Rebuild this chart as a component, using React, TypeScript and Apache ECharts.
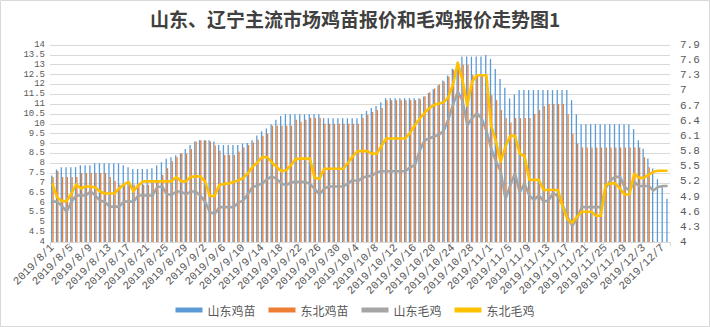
import React, { useEffect, useRef } from "react";
import * as echarts from "echarts";

const categories: string[] = [
  "2019/8/1","2019/8/2","2019/8/3","2019/8/4","2019/8/5","2019/8/6","2019/8/7","2019/8/8","2019/8/9","2019/8/10",
  "2019/8/11","2019/8/12","2019/8/13","2019/8/14","2019/8/15","2019/8/16","2019/8/17","2019/8/18","2019/8/19","2019/8/20",
  "2019/8/21","2019/8/22","2019/8/23","2019/8/24","2019/8/25","2019/8/26","2019/8/27","2019/8/28","2019/8/29","2019/8/30",
  "2019/8/31",
  "2019/9/1","2019/9/2","2019/9/3","2019/9/4","2019/9/5","2019/9/6","2019/9/7","2019/9/8","2019/9/9","2019/9/10",
  "2019/9/11","2019/9/12","2019/9/13","2019/9/14","2019/9/15","2019/9/16","2019/9/17","2019/9/18","2019/9/19","2019/9/20",
  "2019/9/21","2019/9/22","2019/9/23","2019/9/24","2019/9/25","2019/9/26","2019/9/27","2019/9/28","2019/9/29","2019/9/30",
  "2019/10/1","2019/10/2","2019/10/3","2019/10/4","2019/10/5","2019/10/6","2019/10/7","2019/10/8","2019/10/9","2019/10/10",
  "2019/10/11","2019/10/12","2019/10/13","2019/10/14","2019/10/15","2019/10/16","2019/10/17","2019/10/18","2019/10/19","2019/10/20",
  "2019/10/21","2019/10/22","2019/10/23","2019/10/24","2019/10/25","2019/10/26","2019/10/27","2019/10/28","2019/10/29","2019/10/30",
  "2019/10/31",
  "2019/11/1","2019/11/2","2019/11/3","2019/11/4","2019/11/5","2019/11/6","2019/11/7","2019/11/8","2019/11/9","2019/11/10",
  "2019/11/11","2019/11/12","2019/11/13","2019/11/14","2019/11/15","2019/11/16","2019/11/17","2019/11/18","2019/11/19","2019/11/20",
  "2019/11/21","2019/11/22","2019/11/23","2019/11/24","2019/11/25","2019/11/26","2019/11/27","2019/11/28","2019/11/29","2019/11/30",
  "2019/12/1","2019/12/2","2019/12/3","2019/12/4","2019/12/5","2019/12/6","2019/12/7","2019/12/8",
];

// 山东鸡苗 (left axis)
const shandongChick: (number | null)[] = [
  7.38, 7.68, 7.8, 7.8, 7.8, 7.8, 7.9, 7.9, 7.9, 8.0,
  8.0, 8.0, 8.0, 8.0, 8.0, 7.9, 7.8, 7.7, 7.7, 7.7,
  7.7, 7.75, 7.9, 8.05, 8.22, 8.3, 8.4, 8.5, 8.72, 8.92,
  9.1, 9.17, 9.17, 9.17, 9.1, 8.92, 8.92, 8.92, 8.92, 8.92,
  9.0, 9.02, 9.17, 9.4, 9.62, 9.76, 9.98, 10.2, 10.4, 10.48,
  10.48, 10.48, 10.48, 10.48, 10.48, 10.48, 10.48, 10.28, 10.28, 10.28,
  10.28, 10.28, 10.28, 10.28, 10.28, 10.5, 10.65, 10.8, 10.9, 11.1,
  11.3, 11.3, 11.3, 11.3, 11.3, 11.3, 11.3, 11.3, 11.39, 11.56,
  11.76, 11.95, 12.2, 12.45, 12.8, 13.1, 13.41, 13.41, 13.41, 13.41,
  13.41, 13.49, 13.29, 12.78, 12.27, 11.83, 11.29, 11.49, 11.71, 11.71,
  11.71, 11.71, 11.71, 11.71, 11.71, 11.71, 11.71, 11.71, 11.71, 11.2,
  10.49, 9.98, 9.98, 9.98, 9.98, 9.98, 9.98, 9.98, 9.98, 9.98,
  9.98, 9.98, 9.73, 9.17, 8.73, 8.24, 7.73, 7.19, 6.8, 6.2,
];

// 东北鸡苗 (left axis)
const dongbeiChick: (number | null)[] = [
  7.3, 7.6, 7.3, 7.3, 7.3, 7.3, 7.5, 7.5, 7.5, 7.5,
  7.5, 7.5, 7.3, 7.1, 6.9, 6.9, 6.9, 6.9, 6.9, 6.9,
  6.9, 7.0, 7.1, 7.4, 7.75, 8.1, 8.3, 8.5, 8.5, 8.72,
  9.1, 9.17, 9.15, 9.1, 8.9, 8.63, 8.42, 8.42, 8.42, 8.6,
  8.8, 8.92, 9.05, 9.19, 9.39, 9.5, 9.9, 9.9, 9.9, 9.9,
  9.9, 10.2, 10.1, 10.2, 10.3, 10.3, 10.3, 10.0, 10.0, 10.0,
  10.0, 10.0, 10.0, 10.0, 10.0, 10.3, 10.45, 10.6, 10.7, 10.8,
  11.2, 11.2, 11.2, 11.2, 11.2, 11.2, 11.2, 11.25, 11.4, 11.6,
  11.8, 12.0, 12.15, 12.4, 12.75, 13.0, 13.0, 13.0, 12.48, 12.48,
  12.48, 11.55, 11.45, 11.2, 10.7, 10.3, 10.07, 10.29, 10.29, 10.29,
  10.29, 10.5, 10.7, 10.9, 11.0, 11.0, 11.0, 11.0, 10.5, 9.5,
  9.0, 8.8, 8.8, 8.8, 8.8, 8.8, 8.8, 8.8, 8.8, 8.8,
  8.8, 8.8, 8.8, 8.8, 8.3, 7.8, 4.03, null, null, null,
];

// 山东毛鸡 (right axis)
const shandongBroiler: number[] = [
  4.8, 4.8, 4.71, 4.6, 4.8, 4.92, 4.92, 4.92, 5.0, 4.92,
  4.82, 4.79, 4.7, 4.7, 4.7, 4.8, 4.8, 4.8, 4.92, 4.92,
  4.92, 4.92, 5.09, 5.1, 4.95, 4.93, 5.0, 5.0, 4.94, 5.0,
  5.0, 4.92, 4.8, 4.6, 4.55, 4.69, 4.69, 4.69, 4.69, 4.78,
  4.82, 4.95, 5.09, 5.12, 5.16, 5.24, 5.3, 5.25, 5.16, 5.12,
  5.18, 5.19, 5.19, 5.19, 5.15, 5.05, 4.94, 5.06, 5.1, 5.1,
  5.1, 5.1, 5.16, 5.23, 5.2, 5.27, 5.3, 5.31, 5.38, 5.4,
  5.4, 5.4, 5.4, 5.4, 5.4, 5.48, 5.52, 5.8, 6.01, 6.05,
  6.09, 6.12, 6.2, 6.42, 6.72, 6.97, 6.8, 6.31, 6.45, 6.55,
  6.45, 6.2, 5.85, 5.6, 5.4, 4.85, 5.12, 5.36, 4.98, 5.16,
  4.92, 4.83, 4.93, 4.8, 4.82, 4.97, 4.9, 4.73, 4.5, 4.32,
  4.46, 4.69, 4.69, 4.69, 4.69, 4.69, 5.06, 5.22, 5.29, 5.29,
  5.09, 5.02, 5.19, 5.11, 5.11, 5.11, 5.02, 5.09, 5.11, 5.11,
];

// 东北毛鸡 (right axis)
const dongbeiBroiler: number[] = [
  5.16, 4.88, 4.81, 4.81, 4.96, 5.14, 5.06, 5.1, 5.1, 5.08,
  5.0, 4.96, 4.96, 4.96, 5.06, 5.14, 5.19, 5.0, 5.12, 5.2,
  5.2, 5.2, 5.2, 5.2, 5.2, 5.2, 5.29, 5.2, 5.2, 5.29,
  5.3, 5.3, 5.2, 4.91, 4.91, 5.13, 5.15, 5.16, 5.19, 5.22,
  5.27, 5.36, 5.49, 5.58, 5.68, 5.68, 5.58, 5.49, 5.4, 5.42,
  5.52, 5.64, 5.65, 5.65, 5.65, 5.27, 5.25, 5.45, 5.45, 5.45,
  5.45, 5.45, 5.57, 5.7, 5.8, 5.8, 5.8, 5.75, 5.75, 5.9,
  6.05, 6.05, 6.05, 6.05, 6.05, 6.16, 6.31, 6.44, 6.55, 6.65,
  6.71, 6.74, 6.76, 6.86, 7.12, 7.55, 7.2, 6.7, 7.17, 7.3,
  7.3, 7.3, 6.3, 6.0, 5.59, 5.89, 6.1, 6.1, 5.75, 5.7,
  5.23, 5.23, 5.23, 5.03, 5.03, 5.03, 5.03, 4.7, 4.45, 4.38,
  4.5, 4.6, 4.6, 4.6, 4.52, 4.52, 5.13, 5.16, 5.16, 5.06,
  4.94, 4.94, 5.35, 5.27, 5.27, 5.33, 5.39, 5.41, 5.41, 5.41,
];

const seriesNames = ["山东鸡苗", "东北鸡苗", "山东毛鸡", "东北毛鸡"];
const colors = ["#5B9BD5", "#ED7D31", "#A5A5A5", "#FFC000"];
const titleText = "山东、辽宁主流市场鸡苗报价和毛鸡报价走势图1";

const fmt = (v: number) => {
  const r = Math.round(v * 10) / 10;
  return Number.isInteger(r) ? String(r) : r.toFixed(1);
};

export default function App() {
  const ref = useRef<HTMLDivElement>(null);
  useEffect(() => {
    document.body.style.margin = "0";
    if (!ref.current) return;
    const chart = echarts.init(ref.current, undefined, { renderer: "svg" });
    const mono = "Liberation Mono";
    chart.setOption({
      animation: false,
      backgroundColor: "#FFFFFF",
      color: colors,
      title: {
        text: titleText,
        left: "center",
        top: 4,
        textStyle: {
          fontSize: 19,
          fontWeight: "bold",
          color: "#404040",
          fontFamily: "Noto Sans CJK SC",
        },
      },
      legend: {
        data: seriesNames,
        left: "center",
        top: 299,
        icon: "rect",
        itemWidth: 27,
        itemHeight: 5,
        itemGap: 13,
        textStyle: { fontSize: 12, color: "#595959", fontFamily: "Noto Sans CJK SC" },
      },
      graphic: [
        {
          type: "rect",
          shape: { x: 0.5, y: 0.5, width: 709, height: 326 },
          style: { fill: "none", stroke: "#D9D9D9", lineWidth: 1 },
          silent: true,
        },
      ],
      grid: { left: 50, right: 40, top: 45, bottom: 85, containLabel: false },
      xAxis: {
        type: "category",
        data: categories,
        boundaryGap: true,
        axisLine: { lineStyle: { color: "#D9D9D9" } },
        axisTick: { show: true, interval: 3, length: 4, lineStyle: { color: "#D9D9D9" } },
        axisLabel: {
          interval: 3,
          rotate: 45,
          margin: 4,
          fontSize: 11,
          fontFamily: mono,
          color: "#595959",
        },
      },
      yAxis: [
        {
          type: "value",
          min: 4,
          max: 14,
          interval: 0.5,
          axisLine: { show: false },
          axisTick: { show: false },
          splitLine: { lineStyle: { color: "#D9D9D9", width: 1 } },
          axisLabel: {
            fontSize: 9,
            lineHeight: 9,
            fontFamily: mono,
            color: "#595959",
            margin: 5,
            showMinLabel: true,
            showMaxLabel: true,
            hideOverlap: false,
            formatter: fmt,
          },
        },
        {
          type: "value",
          min: 4,
          max: 7.9,
          interval: 0.3,
          axisLine: { show: false },
          axisTick: { show: false },
          splitLine: { show: false },
          axisLabel: {
            fontSize: 11,
            fontFamily: mono,
            color: "#595959",
            margin: 10,
            showMinLabel: true,
            showMaxLabel: true,
            formatter: fmt,
          },
        },
      ],
      series: [
        {
          name: seriesNames[0],
          type: "bar",
          data: shandongChick,
          yAxisIndex: 0,
          barWidth: 1.3,
          barGap: "0%",
          itemStyle: { color: colors[0] },
        },
        {
          name: seriesNames[1],
          type: "bar",
          data: dongbeiChick,
          yAxisIndex: 0,
          barWidth: 1.3,
          barGap: "0%",
          itemStyle: { color: colors[1] },
        },
        {
          name: seriesNames[2],
          type: "line",
          data: shandongBroiler,
          yAxisIndex: 1,
          symbol: "none",
          z: 3,
          lineStyle: { width: 2.6, color: colors[2], join: "round" },
          itemStyle: { color: colors[2] },
        },
        {
          name: seriesNames[3],
          type: "line",
          data: dongbeiBroiler,
          yAxisIndex: 1,
          symbol: "none",
          z: 4,
          lineStyle: { width: 2.6, color: colors[3], join: "round" },
          itemStyle: { color: colors[3] },
        },
      ],
    });
    return () => chart.dispose();
  }, []);
  return <div ref={ref} style={{ width: 710, height: 327 }} />;
}
